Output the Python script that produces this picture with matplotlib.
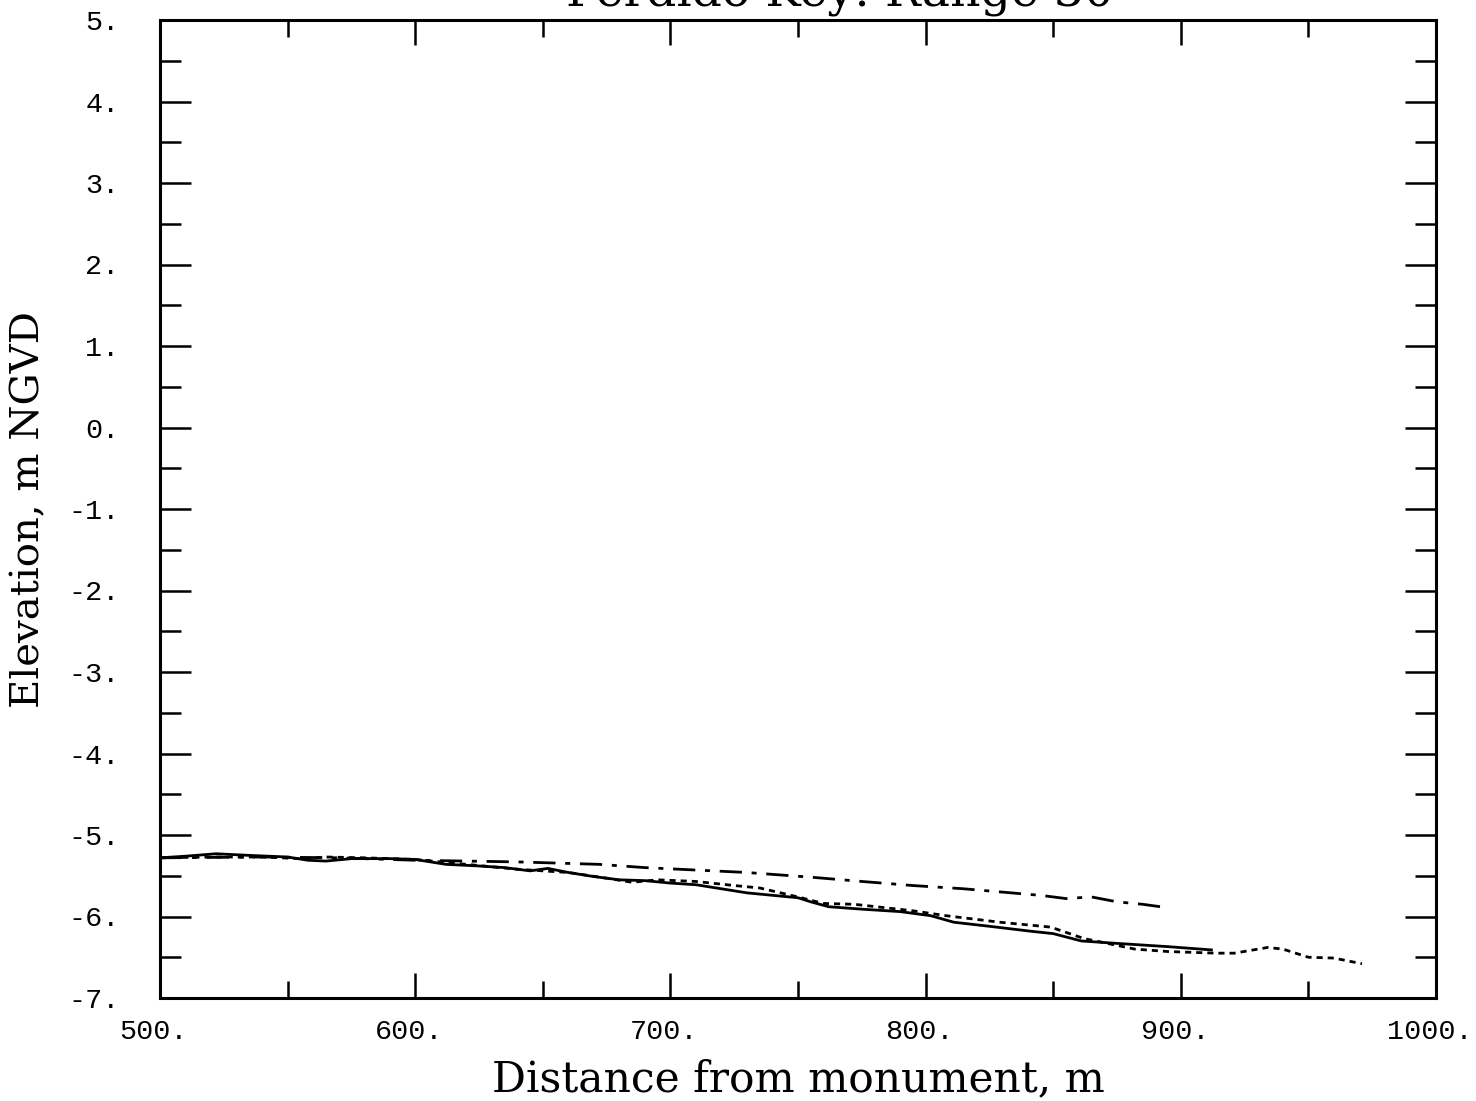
"""Beach profile plot, Perdido Key Range 30."""

import matplotlib

matplotlib.use("Agg")
import matplotlib.pyplot as plt
from matplotlib.ticker import MultipleLocator
from matplotlib.transforms import ScaledTranslation

# profile surveys, distance (m) and elevation (m NGVD)
solid_x = [500, 510, 522, 535, 550, 558, 565, 575, 590, 600, 612, 625, 635,
           645, 652, 660, 670, 680, 690, 700, 710, 720, 730, 740, 750, 755,
           762, 775, 790, 802, 811, 825, 841, 850, 861, 875, 895, 912]
solid_y = [-5.28, -5.26, -5.23, -5.25, -5.27, -5.31, -5.32, -5.29, -5.29,
           -5.30, -5.36, -5.38, -5.40, -5.44, -5.41, -5.46, -5.51, -5.55,
           -5.56, -5.59, -5.61, -5.66, -5.71, -5.74, -5.77, -5.82, -5.88,
           -5.91, -5.94, -5.99, -6.07, -6.12, -6.18, -6.21, -6.30, -6.33,
           -6.37, -6.41]

dashed_x = [500, 520, 540, 555, 565, 580, 600, 620, 640, 660, 675, 685, 695,
            710, 725, 735, 750, 760, 772, 795, 808, 829, 849, 862, 882, 895,
            914, 921, 934, 940, 950, 960, 971]
dashed_y = [-5.28, -5.27, -5.27, -5.29, -5.27, -5.28, -5.30, -5.36, -5.42,
            -5.46, -5.53, -5.58, -5.55, -5.57, -5.62, -5.65, -5.76, -5.84,
            -5.85, -5.93, -5.99, -6.07, -6.13, -6.27, -6.40, -6.43, -6.45,
            -6.45, -6.38, -6.40, -6.50, -6.51, -6.58]

dashdot_x = [500, 540, 570, 600, 640, 672, 690, 710, 730, 756, 775, 795, 815,
             841, 845, 855, 865, 875, 885, 892]
dashdot_y = [-5.28, -5.27, -5.28, -5.31, -5.33, -5.36, -5.40, -5.43, -5.46,
             -5.52, -5.57, -5.62, -5.66, -5.73, -5.74, -5.78, -5.76, -5.82,
             -5.85, -5.88]

x_ticks = [500, 600, 700, 800, 900, 1000]
y_ticks = [5, 4, 3, 2, 1, 0, -1, -2, -3, -4, -5, -6, -7]

label_font = "DejaVu Serif"
tick_font = "Liberation Mono"

fig = plt.figure(figsize=(14.76, 11.01), dpi=100)
ax = fig.add_axes([160 / 1476, 1 - 998 / 1101, 1276 / 1476, 978 / 1101])

ax.plot(solid_x, solid_y, color="black", lw=2.0)
ax.plot(dashed_x, dashed_y, color="black", lw=2.0, linestyle=(0, (2.2, 1.8)))
ax.plot(dashdot_x, dashdot_y, color="black", lw=2.0,
        linestyle=(0, (8, 3.5, 1.8, 3.5)))

ax.set_xlim(500, 1000)
ax.set_ylim(-7, 5)
ax.set_xticks(x_ticks)
ax.set_xticklabels([f"{v}." for v in x_ticks])
ax.set_yticks(y_ticks)
ax.set_yticklabels([f"{v}." for v in y_ticks])
ax.xaxis.set_minor_locator(MultipleLocator(50))
ax.yaxis.set_minor_locator(MultipleLocator(0.5))
ax.tick_params(which="both", direction="in", top=True, right=True,
               width=1.8, colors="black")
ax.tick_params(which="major", axis="y", length=22, pad=29)
ax.tick_params(which="minor", axis="y", length=15)
ax.tick_params(which="major", axis="x", length=18, pad=15)
ax.tick_params(which="minor", axis="x", length=12)
for lab in ax.get_xticklabels() + ax.get_yticklabels():
    lab.set_fontfamily(tick_font)
    lab.set_fontsize(20.5)
# x labels in the original sit a few pixels left of their ticks
shift = ScaledTranslation(-6 / 100, 0, fig.dpi_scale_trans)
for lab in ax.get_xticklabels():
    lab.set_transform(lab.get_transform() + shift)
for spine in ax.spines.values():
    spine.set_linewidth(2.2)

ax.set_xlabel("Distance from monument, m", fontsize=30.5, family=label_font)
ax.xaxis.set_label_coords(0.5, -0.062)
ax.set_ylabel("Elevation, m NGVD", fontsize=29, family=label_font)
ax.yaxis.set_label_coords(-0.088, 0.5)
fig.text(840 / 1476, 1 - 5 / 1101, "Perdido Key: Range 30", ha="center",
         va="baseline", fontsize=34, family=label_font)

fig.savefig("out.png", dpi=100)
